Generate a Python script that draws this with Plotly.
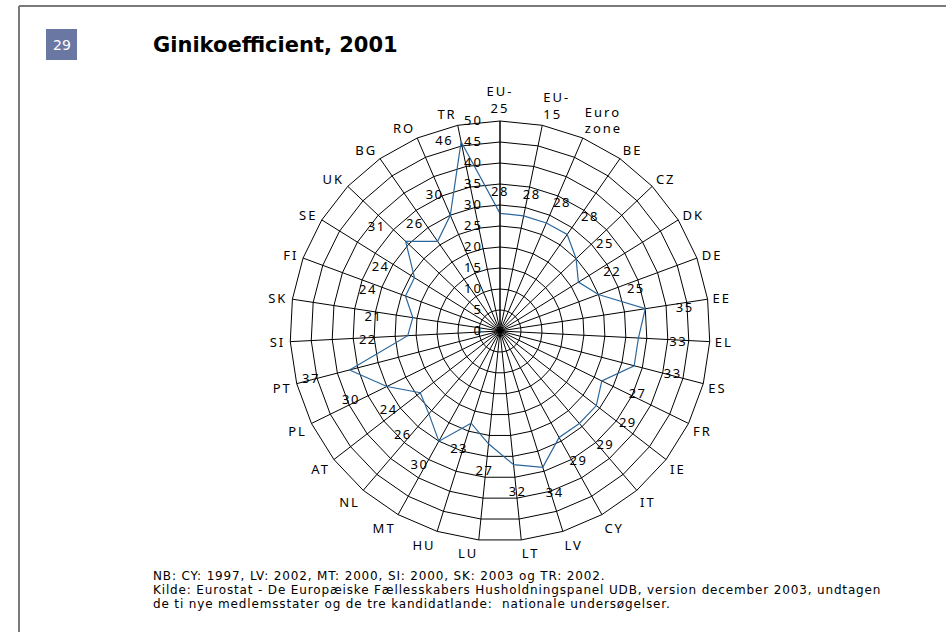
import math
import plotly.graph_objects as go

categories = ["EU-25", "EU-15", "Euro zone", "BE", "CZ", "DK", "DE", "EE", "EL", "ES",
              "FR", "IE", "IT", "CY", "LV", "LT", "LU", "HU", "MT", "NL", "AT", "PL",
              "PT", "SI", "SK", "FI", "SE", "UK", "BG", "RO", "TR"]
category_labels = ["EU-<br>25", "EU-<br>15", "Euro<br>zone", "BE", "CZ", "DK", "DE", "EE", "EL", "ES",
                   "FR", "IE", "IT", "CY", "LV", "LT", "LU", "HU", "MT", "NL", "AT", "PL",
                   "PT", "SI", "SK", "FI", "SE", "UK", "BG", "RO", "TR"]
gini = [28, 28, 28, 28, 25, 22, 25, 35, 33, 33,
        27, 29, 29, 29, 34, 32, 27, 23, 30, 26, 24, 30,
        37, 22, 21, 24, 24, 31, 26, 30, 46]
radial_ticks = [0, 5, 10, 15, 20, 25, 30, 35, 40, 45, 50]

title_text = "Ginikoefficient, 2001"
page_number = "29"
footnote_lines = [
    "NB: CY: 1997, LV: 2002, MT: 2000, SI: 2000, SK: 2003 og TR: 2002.",
    "Kilde: Eurostat - De Europæiske Fællesskabers Husholdningspanel UDB, version december 2003, undtagen",
    "de ti nye medlemsstater og de tre kandidatlande:  nationale undersøgelser.",
]

W, H = 946, 632
LABEL_FONT = "Noto Sans, DejaVu Sans, sans-serif"
R_MAX = 50


def spaced(txt, px):
    return "<br>".join('<span style="letter-spacing:%spx">%s</span>' % (px, part)
                       for part in txt.split("<br>"))


# value-label placement (offset from the data point, wider sideways than vertically)
OFF_X, OFF_Y, DROP = 9.5, 5.8, 0.8
n = len(categories)
lab_r, lab_t = [], []
for i, v in enumerate(gini):
    th = math.radians(i * 360.0 / n)
    X = (v + OFF_X) * math.sin(th)
    Y = (v + OFF_Y) * math.cos(th) - DROP
    if math.hypot(X, Y) > 48:
        X = v * math.sin(th) - 4.0
        Y = v * math.cos(th)
    lab_r.append(math.hypot(X, Y))
    lab_t.append(math.degrees(math.atan2(X, Y)) % 360)

fig = go.Figure()
fig.add_trace(go.Scatterpolar(
    r=gini + [gini[0]],
    theta=categories + [categories[0]],
    mode="lines",
    line=dict(color="#2b679c", width=1.2),
    hoverinfo="skip",
    showlegend=False,
    subplot="polar",
))
fig.add_trace(go.Scatterpolar(
    r=lab_r,
    theta=lab_t,
    thetaunit="degrees",
    mode="text",
    text=[spaced(str(v), 1.5) for v in gini],
    textposition="middle center",
    textfont=dict(family=LABEL_FONT, size=13, color="black"),
    cliponaxis=False,
    showlegend=False,
    hoverinfo="skip",
    subplot="polar2",
))

dom = dict(x=[290 / W, 710 / W], y=[1 - 541 / H, 1 - 121 / H])

fig.update_layout(
    width=W, height=H,
    margin=dict(l=0, r=0, t=0, b=0),
    paper_bgcolor="white",
    plot_bgcolor="white",
    showlegend=False,
    polar=dict(
        domain=dom,
        bgcolor="white",
        gridshape="linear",
        angularaxis=dict(
            type="category",
            categoryorder="array",
            categoryarray=categories,
            tickmode="array",
            tickvals=categories,
            ticktext=[spaced(t, 2) for t in category_labels],
            rotation=90,
            direction="clockwise",
            showline=True,
            linecolor="black",
            linewidth=1,
            showgrid=True,
            gridcolor="black",
            gridwidth=1,
            ticks="outside",
            ticklen=2,
            tickcolor="rgba(0,0,0,0)",
            tickfont=dict(family=LABEL_FONT, size=13, color="black"),
        ),
        radialaxis=dict(
            range=[0, R_MAX],
            tickmode="array",
            tickvals=radial_ticks,
            ticktext=[spaced(str(t), 2) for t in radial_ticks],
            angle=90,
            tickangle=90,
            side="counterclockwise",
            showline=True,
            linecolor="black",
            linewidth=1,
            showgrid=True,
            gridcolor="black",
            gridwidth=1,
            ticks="outside",
            ticklen=12,
            tickcolor="rgba(0,0,0,0)",
            tickfont=dict(family=LABEL_FONT, size=13, color="black"),
        ),
    ),
    polar2=dict(
        domain=dom,
        bgcolor="rgba(0,0,0,0)",
        angularaxis=dict(visible=False, rotation=90, direction="clockwise"),
        radialaxis=dict(visible=False, range=[0, R_MAX]),
    ),
)

# page frame
fig.add_shape(type="line", xref="paper", yref="paper",
              x0=19 / W, x1=1.0, y0=1 - 6 / H, y1=1 - 6 / H,
              line=dict(color="#7a7a7a", width=2))
fig.add_shape(type="line", xref="paper", yref="paper",
              x0=19 / W, x1=19 / W, y0=0, y1=1 - 6 / H,
              line=dict(color="#7a7a7a", width=2))
# page number box
fig.add_shape(type="rect", xref="paper", yref="paper",
              x0=46 / W, x1=77 / W, y0=1 - 60 / H, y1=1 - 29 / H,
              fillcolor="#6b77a3", line=dict(width=0))
fig.add_annotation(x=61.5 / W, y=1 - 44.5 / H, xref="paper", yref="paper",
                   text=page_number, showarrow=False,
                   font=dict(family="DejaVu Sans", size=14, color="white"),
                   xanchor="center", yanchor="middle")
fig.add_annotation(x=151 / W, y=1 - 45 / H, xref="paper", yref="paper",
                   text="<b>" + title_text + "</b>", showarrow=False,
                   font=dict(family="DejaVu Sans", size=21, color="black"),
                   xanchor="left", yanchor="middle")
for i, line in enumerate(footnote_lines):
    fig.add_annotation(x=151 / W, y=1 - (576 + 14 * i) / H, xref="paper", yref="paper",
                       text=spaced(line, 0.85), showarrow=False,
                       font=dict(family="DejaVu Sans", size=12, color="black"),
                       xanchor="left", yanchor="middle")

post = """
document.body.style.margin = '0';
document.body.style.overflow = 'hidden';
"""
fig.write_html("out.html", post_script=post, config={"displayModeBar": False})
